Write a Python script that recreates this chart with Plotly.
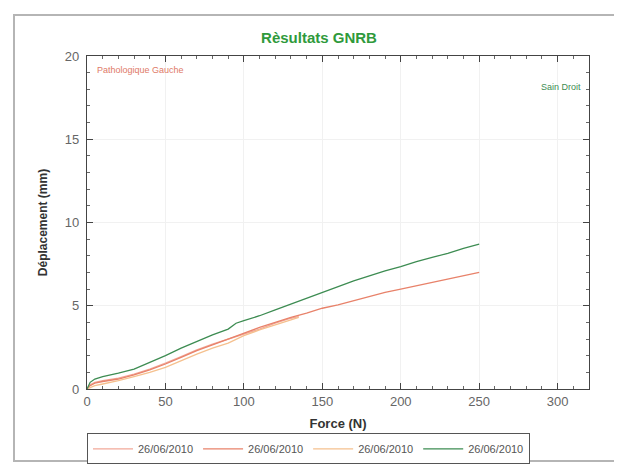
import plotly.graph_objects as go

# Force (N) / displacement (mm) readings
force_sain = [0, 2, 5, 10, 20, 30, 40, 50, 60, 70, 80, 90, 95, 100, 110, 120, 130, 135,
              140, 150, 160, 170, 180, 190, 200, 210, 220, 230, 240, 250]
depl_sain = [0, 0.4, 0.6, 0.75, 0.95, 1.2, 1.6, 2.0, 2.45, 2.85, 3.25, 3.6, 3.95, 4.1,
             4.4, 4.75, 5.1, 5.3, 5.45, 5.8, 6.15, 6.5, 6.8, 7.1, 7.35, 7.65, 7.9, 8.15,
             8.45, 8.7]

force_patho_long = [0, 2, 5, 10, 20, 30, 40, 50, 60, 70, 80, 90, 100, 110, 120, 130, 140,
                    150, 160, 170, 180, 190, 200, 210, 220, 230, 240, 250]
depl_patho_long = [0, 0.2, 0.35, 0.45, 0.6, 0.85, 1.15, 1.5, 1.9, 2.3, 2.65, 3.0, 3.35,
                   3.7, 4.0, 4.3, 4.55, 4.85, 5.05, 5.3, 5.55, 5.8, 6.0, 6.2, 6.4, 6.6,
                   6.8, 7.0]

force_patho_short = [0, 2, 5, 10, 20, 30, 40, 50, 60, 70, 80, 90, 100, 110, 120, 130, 135]
depl_patho_a = [0, 0.25, 0.4, 0.5, 0.65, 0.9, 1.2, 1.55, 1.95, 2.35, 2.7, 3.0, 3.3, 3.6,
                3.95, 4.25, 4.35]
depl_patho_b = [0, 0.1, 0.2, 0.3, 0.5, 0.75, 1.0, 1.3, 1.7, 2.1, 2.45, 2.75, 3.2, 3.55,
                3.85, 4.15, 4.3]

series_names = ["26/06/2010", "26/06/2010", "26/06/2010", "26/06/2010"]
series_colors = ["#f2a899", "#e8826a", "#f5c08e", "#3d8c52"]

FONT = "Liberation Sans, Arial, sans-serif"

fig = go.Figure()
data = [
    (force_patho_short, depl_patho_a),
    (force_patho_long, depl_patho_long),
    (force_patho_short, depl_patho_b),
    (force_sain, depl_sain),
]
for (fx, dy), name, col in zip(data, series_names, series_colors):
    fig.add_trace(go.Scatter(x=fx, y=dy, mode="lines", name=name,
                             line=dict(color=col, width=1.3)))

axis_common = dict(
    showline=True, linecolor="#444", linewidth=1.2, mirror="allticks",
    ticks="inside", ticklen=6, tickcolor="#444", tickwidth=1,
    minor=dict(ticks="inside", ticklen=3, tickcolor="#666", showgrid=False),
    showgrid=True, gridcolor="#f1f1f1", zeroline=False, automargin=False,
    tickfont=dict(family=FONT, size=13, color="#666"),
)

fig.update_xaxes(range=[0, 320], dtick=50, minor_dtick=10,
                 title=dict(text="<b>Force (N)</b>", standoff=11,
                            font=dict(family=FONT, size=13, color="#333")),
                 **axis_common)
fig.update_yaxes(range=[0, 20], dtick=5, minor_dtick=1, ticklabelstandoff=4,
                 title=dict(text="<b>Déplacement (mm)</b>", standoff=14,
                            font=dict(family=FONT, size=12, color="#333")),
                 **axis_common)

# the page body adds an 8px offset, so the margins are shifted by 8px
fig.update_layout(
    width=622, height=466,
    paper_bgcolor="white", plot_bgcolor="white",
    margin=dict(l=79, r=41, t=48, b=85, autoexpand=False),
    title=dict(text="<b>Rèsultats GNRB</b>", x=0.5, xanchor="center",
               y=1 - 30 / 466, yanchor="middle",
               font=dict(family=FONT, size=15, color="#2f9a3c")),
    showlegend=True,
    legend=dict(orientation="h", x=0.0, xanchor="left", y=-0.133, yanchor="top",
                bordercolor="#555", borderwidth=1, bgcolor="white",
                font=dict(family=FONT, size=11, color="#555"),
                itemwidth=40, tracegroupgap=0),
    annotations=[
        dict(text="Pathologique Gauche", xref="paper", yref="paper", x=0.016, y=0.958,
             xanchor="left", yanchor="middle", showarrow=False,
             font=dict(family=FONT, size=9, color="#e07a68")),
        dict(text="Sain Droit", xref="paper", yref="paper", x=0.988, y=0.907,
             xanchor="right", yanchor="middle", showarrow=False,
             font=dict(family=FONT, size=9, color="#3d8c52")),
    ],
    shapes=[
        dict(type="rect", xref="paper", yref="paper", x0=-0.1454, x1=1.0598,
             y0=-0.216, y1=1.123, line=dict(color="#b5b5b5", width=2), layer="below"),
    ],
)

fig.write_html("out.html")
